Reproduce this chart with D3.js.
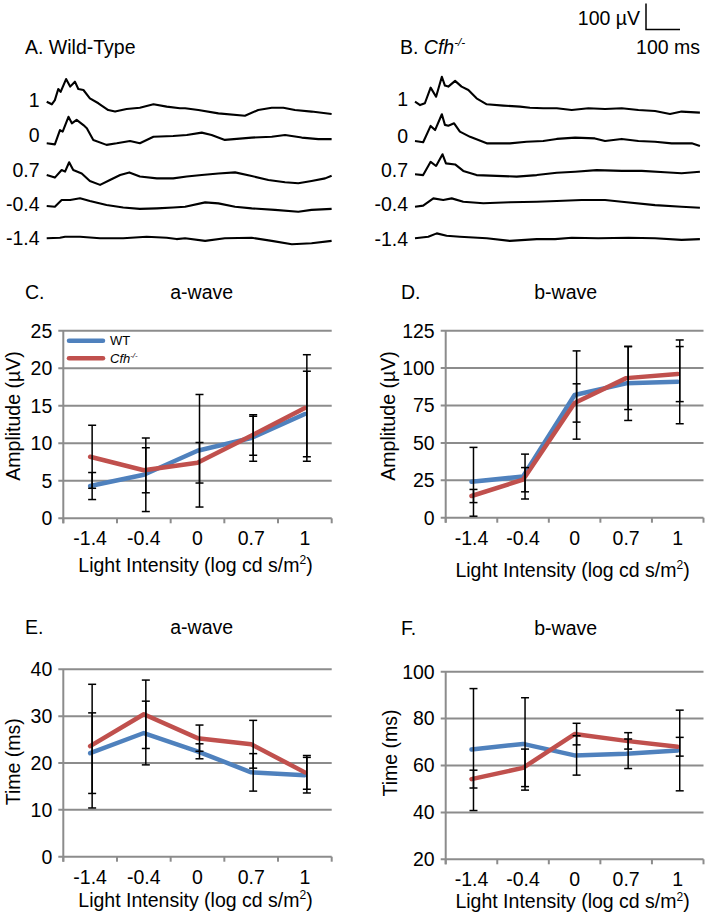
<!DOCTYPE html>
<html>
<head>
<meta charset="utf-8">
<script src="https://cdn.jsdelivr.net/npm/d3@7"></script>
<style>
  body { margin: 0; background: #fff; }
  svg { display: block; font-family: "Liberation Sans", Arial, sans-serif; }
</style>
</head>
<body>
<svg id="fig" width="710" height="916"></svg>
<script>
// ERG traces + a/b-wave amplitude and implicit time, WT vs Cfh-/-

// ---- data ----
const intensities = ["-1.4", "-0.4", "0", "0.7", "1"];
const traceLabels = ["1", "0", "0.7", "-0.4", "-1.4"];

// ERG traces, [time ms, µV]
const wtTrace1 = [[0,0],[15,-10],[24,6],[34,49],[41,38],[57,87],[69,58],[83,77],[93,49],[108,45],[127,13],[152,-6],[181,-32],[201,-38],[235,-28],[274,-23],[314,-10],[353,-19],[392,-25],[407,-25],[446,-32],[505,-45],[583,-54],[622,-32],[662,-23],[696,-23],[730,-32],[779,-38],[838,-47]];
const wtTrace0 = [[0,0],[24,-4],[39,51],[47,45],[64,102],[74,77],[88,90],[108,70],[118,58],[137,13],[176,-6],[206,0],[245,9],[274,0],[314,25],[372,28],[412,32],[456,41],[485,32],[524,13],[603,22],[662,25],[701,32],[750,22],[799,16],[838,16]];
const wtTrace07 = [[0,0],[24,-10],[44,19],[54,13],[66,49],[78,19],[103,6],[127,-23],[157,-38],[186,-19],[216,0],[243,10],[274,-6],[324,-13],[372,-13],[412,-6],[456,0],[505,6],[554,10],[603,-4],[652,-19],[701,-28],[740,-32],[779,-23],[819,-13],[838,-3]];
const wtTraceM04 = [[0,0],[24,-3],[44,23],[69,23],[98,30],[127,19],[176,4],[225,-6],[274,-11],[324,-9],[372,-6],[407,-3],[466,14],[505,10],[554,-3],[603,-9],[671,-15],[740,-22],[779,-15],[838,-11]];
const wtTraceM14 = [[0,0],[39,2],[54,6],[98,6],[157,0],[225,0],[294,6],[353,2],[382,-3],[407,0],[466,-10],[524,0],[603,2],[662,-10],[721,-23],[779,-19],[838,-10]];

const cfhTrace1 = [[0,0],[15,-13],[29,-6],[46,54],[62,19],[79,96],[88,62],[98,58],[118,80],[137,58],[157,45],[181,13],[211,-10],[260,-15],[309,-19],[338,-23],[377,-25],[417,-25],[461,-32],[510,-25],[559,-28],[608,-25],[657,-32],[706,-36],[750,-47],[784,-38],[838,-42]];
const cfhTrace0 = [[0,0],[24,-5],[46,58],[59,42],[79,103],[88,62],[98,59],[115,68],[132,36],[162,16],[211,-9],[279,-9],[328,-3],[377,0],[417,8],[471,13],[529,10],[559,0],[608,8],[657,0],[706,-3],[755,-9],[814,-9],[838,-19]];
const cfhTrace07 = [[0,0],[24,-3],[46,48],[62,32],[81,77],[91,42],[118,38],[142,13],[181,-3],[240,-6],[299,-9],[358,-3],[417,6],[471,10],[534,16],[608,13],[667,13],[735,8],[784,4],[838,10]];
const cfhTraceM04 = [[0,0],[24,4],[54,32],[83,26],[108,32],[142,19],[201,13],[279,17],[358,19],[417,22],[490,26],[559,26],[608,19],[706,6],[784,0],[838,-4]];
const cfhTraceM14 = [[0,0],[39,6],[64,19],[93,10],[132,6],[211,0],[279,-10],[358,-3],[412,-3],[461,2],[539,0],[628,2],[706,0],[784,-6],[838,-3]];

// a-wave amplitude (µV)
const aAmpWT = [4.3, 5.8, 9.0, 10.7, 13.9];
const aAmpWTErr = [1.8, 4.9, 7.5, 3.1, 5.7];
const aAmpCfh = [8.2, 6.4, 7.4, 11.0, 14.7];
const aAmpCfhErr = [4.2, 3.0, 2.7, 2.6, 7.1];

// b-wave amplitude (µV)
const bAmpWT = [24, 27.5, 82, 89.8, 90.8];
const bAmpWTErr = [23, 15, 29.5, 24.8, 28];
const bAmpCfh = [14.5, 25.4, 76.7, 93.3, 96];
const bAmpCfhErr = [4.4, 8.1, 12.8, 21, 18.4];

// a-wave implicit time (ms)
const aTimeWT = [22.1, 26.4, 22.5, 18.0, 17.4];
const aTimeWTErr = [8.6, 6.8, 1.6, 4.0, 3.8];
const aTimeCfh = [23.6, 30.4, 25.3, 24.0, 18.0];
const aTimeCfhErr = [13.2, 7.3, 2.8, 5.1, 3.6];

// b-wave implicit time (ms)
const bTimeWT = [66.8, 69.2, 64.3, 65.0, 66.4];
const bTimeWTErr = [26, 19.7, 8.4, 6.3, 17.2];
const bTimeCfh = [54.2, 59.0, 73.4, 70.5, 68.0];
const bTimeCfhErr = [3.8, 8.0, 4.6, 3.5, 4.0];

// ---- style ----
const FONT = 19.5;
const BLUE = "#4f81bd";
const RED = "#c0504d";
const GRID = "#8c8c8c";

const svg = d3.select("#fig");

// helper: "Cfh" italic with -/- superscript
function cfhText(sel, size) {
  sel.append("tspan").attr("font-style", "italic").text("Cfh");
  sel.append("tspan")
    .attr("font-style", "italic")
    .attr("font-size", size * 0.6)
    .attr("dy", -size * 0.38)
    .text("-/-");
}

// ---- ERG traces ----
const tx = d3.scaleLinear().domain([0, 100]).range([0, 34]);   // 100 ms = 34 px
const ty = d3.scaleLinear().domain([0, 100]).range([0, -26]);  // 100 µV = 26 px

function drawTraces(traces, x0, rows, labelX, labelRows) {
  const g = svg.append("g");
  const line = d3.line().x((d) => x0 + tx(d[0])).y((d) => ty(d[1]));
  traces.forEach((tr, i) => {
    g.append("path")
      .attr("d", line(tr))
      .attr("transform", `translate(0,${rows[i]})`)
      .attr("fill", "none")
      .attr("stroke", "#000")
      .attr("stroke-width", 2.1)
      .attr("stroke-linejoin", "round");
    g.append("text")
      .attr("x", labelX)
      .attr("y", labelRows[i])
      .attr("dy", "0.35em")
      .attr("text-anchor", "end")
      .attr("font-size", FONT)
      .text(traceLabels[i]);
  });
}

drawTraces([wtTrace1, wtTrace0, wtTrace07, wtTraceM04, wtTraceM14],
  46.7, [101.7, 143.3, 175, 206, 238.3], 39.5, [100, 135, 170, 204, 238.3]);
drawTraces([cfhTrace1, cfhTrace0, cfhTrace07, cfhTraceM04, cfhTraceM14],
  415, [101.7, 141, 174.3, 206.7, 238.3], 408, [99.5, 136, 170, 204, 239]);

svg.append("text").attr("x", 25).attr("y", 46.7).attr("dy", "0.35em")
  .attr("font-size", FONT).text("A. Wild-Type");
const bTitle = svg.append("text").attr("x", 400).attr("y", 46.7).attr("dy", "0.35em")
  .attr("font-size", FONT);
bTitle.append("tspan").text("B. ");
cfhText(bTitle, FONT);

// scale bar
const sbX = 646, sbY = 29.5;
svg.append("path")
  .attr("d", `M${sbX},${sbY + ty(100)}V${sbY}H${sbX + tx(100)}`)
  .attr("fill", "none").attr("stroke", "#000").attr("stroke-width", 1.5);
svg.append("text").attr("x", 640).attr("y", 18).attr("dy", "0.35em")
  .attr("text-anchor", "end").attr("font-size", FONT).text("100 µV");
svg.append("text").attr("x", 700).attr("y", 46.7).attr("dy", "0.35em")
  .attr("text-anchor", "end").attr("font-size", FONT).text("100 ms");

// ---- line charts ----
function drawPanel(p) {
  const g = svg.append("g");
  const x = d3.scaleBand().domain(intensities).range([p.left, p.right]);
  const y = d3.scaleLinear().domain(p.domain).range([p.bottom, p.top]);
  const ticks = d3.range(p.domain[0], p.domain[1] + 1e-9, p.step);

  // gridlines (and bottom axis)
  g.selectAll(".grid").data(ticks).enter().append("line")
    .attr("x1", p.left - 5).attr("x2", p.right)
    .attr("y1", (d) => y(d)).attr("y2", (d) => y(d))
    .attr("stroke", GRID).attr("stroke-width", 2);
  g.append("line")
    .attr("x1", p.left).attr("x2", p.left)
    .attr("y1", p.top).attr("y2", p.bottom + 5)
    .attr("stroke", GRID).attr("stroke-width", 2);
  const bounds = intensities.map((d) => x(d)).concat([p.right]);
  g.selectAll(".xtick").data(bounds).enter().append("line")
    .attr("x1", (d) => d).attr("x2", (d) => d)
    .attr("y1", p.bottom).attr("y2", p.bottom + 5)
    .attr("stroke", GRID).attr("stroke-width", 2);

  // tick labels
  g.selectAll(".ylab").data(ticks).enter().append("text")
    .attr("x", p.left - 11).attr("y", (d) => y(d)).attr("dy", "0.35em")
    .attr("text-anchor", "end").attr("font-size", FONT)
    .text((d) => d);
  g.selectAll(".xlab").data(intensities).enter().append("text")
    .attr("x", (d) => x(d) + x.bandwidth() / 2).attr("y", p.bottom + 20)
    .attr("dy", "0.35em").attr("text-anchor", "middle").attr("font-size", FONT)
    .text((d) => d);

  // axis titles
  const xt = g.append("text")
    .attr("x", (p.left + p.right) / 2 - 2).attr("y", p.xTitleY).attr("dy", "0.35em")
    .attr("text-anchor", "middle").attr("font-size", FONT);
  xt.append("tspan").text("Light Intensity (log cd s/m");
  xt.append("tspan").attr("font-size", FONT * 0.62).attr("dy", -FONT * 0.38).text("2");
  xt.append("tspan").attr("dy", FONT * 0.38).text(")");

  g.append("text")
    .attr("transform", `translate(${p.yTitleX},${p.yTitleY}) rotate(-90)`)
    .attr("dy", "0.35em").attr("text-anchor", "middle").attr("font-size", FONT)
    .text(p.yTitle);

  // panel letter and title
  g.append("text").attr("x", p.letterX).attr("y", p.titleY).attr("dy", "0.35em")
    .attr("font-size", FONT).text(p.letter);
  g.append("text").attr("x", p.titleX).attr("y", p.titleY).attr("dy", "0.35em")
    .attr("text-anchor", "middle").attr("font-size", FONT).text(p.title);

  // series lines
  const cx = (i) => x(intensities[i]) + x.bandwidth() / 2;
  const line = d3.line().x((d, i) => cx(i)).y((d) => y(d));
  [[p.wt, BLUE], [p.cfh, RED]].forEach(([vals, col]) => {
    g.append("path").attr("d", line(vals))
      .attr("fill", "none").attr("stroke", col).attr("stroke-width", 4.5)
      .attr("stroke-linejoin", "round").attr("stroke-linecap", "round");
  });

  // error bars
  [[p.wt, p.wtErr], [p.cfh, p.cfhErr]].forEach(([vals, errs]) => {
    vals.forEach((v, i) => {
      const lo = Math.max(v - errs[i], p.domain[0]);
      const hi = v + errs[i];
      const xx = cx(i) + 2;
      g.append("line").attr("x1", xx).attr("x2", xx)
        .attr("y1", y(lo)).attr("y2", y(hi))
        .attr("stroke", "#000").attr("stroke-width", 1.5);
      [lo, hi].forEach((e) => {
        g.append("line").attr("x1", xx - 4).attr("x2", xx + 4)
          .attr("y1", y(e)).attr("y2", y(e))
          .attr("stroke", "#000").attr("stroke-width", 1.5);
      });
    });
  });

  if (p.legend) {
    const lg = g.append("g");
    [["WT", BLUE, 340.7], ["Cfh", RED, 358.3]].forEach(([name, col, ly]) => {
      lg.append("line").attr("x1", 69).attr("x2", 103)
        .attr("y1", ly).attr("y2", ly)
        .attr("stroke", col).attr("stroke-width", 4.5)
        .attr("stroke-linecap", "round");
      const t = lg.append("text").attr("x", 110).attr("y", ly).attr("dy", "0.35em")
        .attr("font-size", 13);
      if (name === "WT") t.text("WT");
      else cfhText(t, 13);
    });
  }
}

drawPanel({
  left: 63.3, right: 331.7, top: 330.7, bottom: 518.3,
  domain: [0, 25], step: 5,
  wt: aAmpWT, wtErr: aAmpWTErr, cfh: aAmpCfh, cfhErr: aAmpCfhErr,
  letter: "C.", letterX: 25, title: "a-wave", titleX: 201.7, titleY: 292,
  yTitle: "Amplitude (µV)", yTitleX: 13.5, yTitleY: 416,
  xTitleY: 565, legend: true,
});
drawPanel({
  left: 445.7, right: 703.5, top: 330.7, bottom: 517.7,
  domain: [0, 125], step: 25,
  wt: bAmpWT, wtErr: bAmpWTErr, cfh: bAmpCfh, cfhErr: bAmpCfhErr,
  letter: "D.", letterX: 401, title: "b-wave", titleX: 565.7, titleY: 292,
  yTitle: "Amplitude (µV)", yTitleX: 388.5, yTitleY: 416,
  xTitleY: 570,
});
drawPanel({
  left: 63.3, right: 331.7, top: 669.3, bottom: 856.7,
  domain: [0, 40], step: 10,
  wt: aTimeWT, wtErr: aTimeWTErr, cfh: aTimeCfh, cfhErr: aTimeCfhErr,
  letter: "E.", letterX: 25, title: "a-wave", titleX: 201.7, titleY: 627.3,
  yTitle: "Time (ms)", yTitleX: 13.5, yTitleY: 761.7,
  xTitleY: 900,
});
drawPanel({
  left: 445.7, right: 703.5, top: 671.7, bottom: 859.3,
  domain: [20, 100], step: 20,
  wt: bTimeWT, wtErr: bTimeWTErr, cfh: bTimeCfh, cfhErr: bTimeCfhErr,
  letter: "F.", letterX: 401, title: "b-wave", titleX: 565.7, titleY: 628.3,
  yTitle: "Time (ms)", yTitleX: 390, yTitleY: 753,
  xTitleY: 901.5,
});
</script>
</body>
</html>
